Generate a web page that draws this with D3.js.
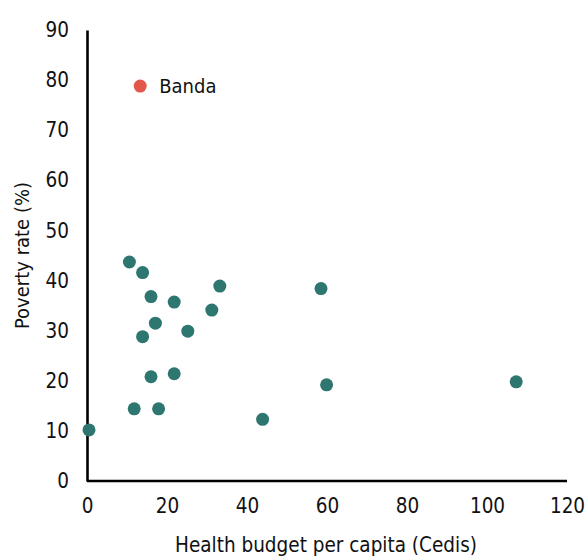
<!DOCTYPE html>
<html>
<head>
<meta charset="utf-8">
<script src="https://cdn.jsdelivr.net/npm/d3@7"></script>
<style>
  body { margin: 0; background: #fff; }
  svg { font-family: "DejaVu Sans Condensed", "DejaVu Sans", sans-serif; font-stretch: condensed; }
  .axis path { stroke: #000; stroke-width: 2.6px; }
  .axis line { display: none; }
  .axis text { font-size: 20.5px; fill: #111; font-family: "DejaVu Sans Condensed", "DejaVu Sans", sans-serif; font-stretch: condensed; }
</style>
</head>
<body>
<svg id="chart"></svg>
<script>
  // districts: health budget per capita (Cedis) vs poverty rate (%)
  const districts = ["Banda", "d2", "d3", "d4", "d5", "d6", "d7", "d8", "d9", "d10",
    "d11", "d12", "d13", "d14", "d15", "d16", "d17", "d18", "d19"];
  const budget = [13.3, 10.6, 13.9, 16.0, 21.8, 33.2, 31.2, 17.1, 25.2, 13.9,
    16.0, 21.8, 11.8, 17.9, 43.9, 0.5, 58.5, 59.9, 107.3];
  const poverty = [78.8, 43.7, 41.6, 36.8, 35.7, 38.9, 34.1, 31.5, 29.9, 28.8,
    20.8, 21.4, 14.4, 14.4, 12.3, 10.2, 38.4, 19.2, 19.8];
  const highlighted = ["Banda"];
  const xTicks = [0, 20, 40, 60, 80, 100, 120];
  const yTicks = [0, 10, 20, 30, 40, 50, 60, 70, 80, 90];

  const width = 587, height = 557;
  const margin = {top: 30, right: 20, bottom: 76, left: 87};

  const svg = d3.select('#chart')
    .attr('width', width)
    .attr('height', height);

  const xscale = d3.scaleLinear().domain([0, 120]).range([margin.left, margin.left + 480]);
  const yscale = d3.scaleLinear().domain([0, 90]).range([height - margin.bottom, margin.top]);

  const data = districts.map((name, i) => ({name, x: budget[i], y: poverty[i]}));

  // axes, no tick marks
  const g_xaxis = svg.append('g').attr('class', 'x axis')
    .attr('transform', `translate(0,${yscale(0)})`)
    .call(d3.axisBottom(xscale).tickValues(xTicks).tickSize(0).tickSizeOuter(0).tickPadding(17));
  const g_yaxis = svg.append('g').attr('class', 'y axis')
    .attr('transform', `translate(${xscale(0)},0)`)
    .call(d3.axisLeft(yscale).tickValues(yTicks).tickSize(0).tickSizeOuter(0).tickPadding(18));
  g_xaxis.select('.domain').attr('d', `M${xscale(0)},0H${xscale(120)}`);

  // points
  svg.append('g').selectAll('circle').data(data).join('circle')
    .attr('cx', (d) => xscale(d.x))
    .attr('cy', (d) => yscale(d.y))
    .attr('r', 6.5)
    .attr('fill', (d) => highlighted.includes(d.name) ? '#e2574a' : '#2e7670');

  // label for highlighted district
  svg.append('g').selectAll('text').data(data.filter((d) => highlighted.includes(d.name))).join('text')
    .attr('x', (d) => xscale(d.x) + 19)
    .attr('y', (d) => yscale(d.y))
    .attr('dy', '0.35em')
    .style('font-size', '20px')
    .style('fill', '#111')
    .text((d) => d.name);

  // axis titles
  svg.append('text')
    .attr('x', 326)
    .attr('y', 552)
    .attr('text-anchor', 'middle')
    .style('font-size', '20.5px')
    .style('fill', '#111')
    .text('Health budget per capita (Cedis)');

  svg.append('text')
    .attr('transform', `translate(29,${(yscale(0) + yscale(90)) / 2}) rotate(-90)`)
    .attr('text-anchor', 'middle')
    .style('font-size', '20px')
    .style('fill', '#111')
    .text('Poverty rate (%)');
</script>
</body>
</html>
